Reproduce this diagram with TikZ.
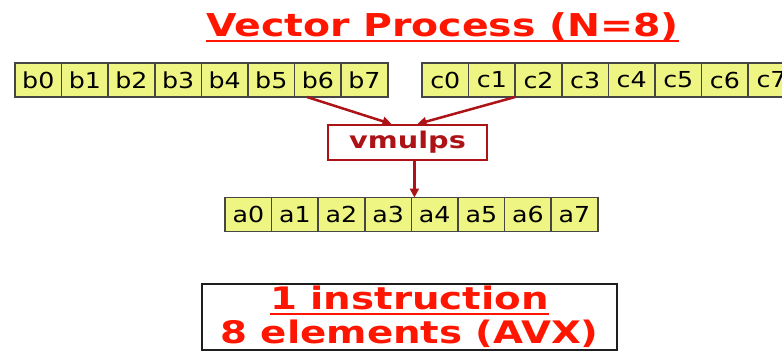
\documentclass[tikz,border=0pt]{standalone}
\usepackage{fontspec}
\usepackage{tikz}
\usetikzlibrary{positioning,arrows.meta}

\newfontfamily\cellfont[FakeStretch=1.15]{DejaVu Sans}
\newfontfamily\headfont[FakeStretch=1.25]{DejaVu Sans}

\definecolor{cellfill}{RGB}{238,245,130}
\definecolor{cellline}{RGB}{70,70,70}
\definecolor{opred}{RGB}{172,18,22}
\definecolor{headred}{RGB}{255,22,0}
\definecolor{noteline}{RGB}{30,30,30}

% underline with a thick bar
\newcommand{\ulbar}[1]{\setbox0\hbox{#1}\rlap{\rule[-5.5pt]{\wd0}{2.6pt}}\box0}

\begin{document}
\begin{tikzpicture}[
  x=1pt, y=-1pt,
  cell/.style = {draw=cellline, fill=cellfill, line width=1.5pt, outer sep=0pt,
                 inner sep=0pt, minimum width=46.6pt, minimum height=34pt,
                 font=\cellfont\fontsize{22}{24}\selectfont},
  op/.style   = {draw=opred, line width=2pt, fill=white, text=opred,
                 minimum width=159pt, minimum height=35pt, inner sep=0pt,
                 font=\headfont\bfseries\fontsize{23}{25}\selectfont},
  title/.style = {text=headred, anchor=base,
                 font=\headfont\bfseries\fontsize{31.5}{34}\selectfont},
  note/.style = {draw=noteline, line width=2.5pt, text=headred, align=center,
                 minimum width=415pt, minimum height=66pt, inner sep=0pt,
                 font=\headfont\bfseries\fontsize{31}{34}\selectfont},
  arr/.style  = {-{Triangle[length=9pt,width=9pt]}, draw=opred, line width=2.5pt}
]
  \useasboundingbox (0,0) rectangle (782,353);
  \clip (0,0) rectangle (782,353);

  \node[title] (title) at (442.5,37) {\ulbar{Vector Process (N=8)}};

  % input registers
  \node[cell] (b0) at (38.3,80) {b0};
  \foreach \i [count=\p from 0] in {1,...,7}
    \node[cell, right=0pt of b\p] (b\i) {b\i};

  \node[cell] (c0) at (445.3,80) {c0};
  \foreach \i [count=\p from 0] in {1,...,7}
    \node[cell, right=0pt of c\p] (c\i) {c\i};

  \node[op] (vmul) at (407.5,142.5) {vmulps};

  % result register
  \node[cell] (a0) at (248.3,214.5) {a0};
  \foreach \i [count=\p from 0] in {1,...,7}
    \node[cell, right=0pt of a\p] (a\i) {a\i};

  \draw[arr] ([xshift=-11pt]b6.south) -- ([xshift=-16pt]vmul.north);
  \draw[arr] (c1.south east) -- ([xshift=10pt]vmul.north);
  \draw[arr] ([xshift=3pt]vmul.south -| a4.north west) -- ([xshift=3pt]a4.north west);

  \node[note] (note) at (409.5,317) {\ulbar{1 instruction}\\8 elements (AVX)};
\end{tikzpicture}
\end{document}
